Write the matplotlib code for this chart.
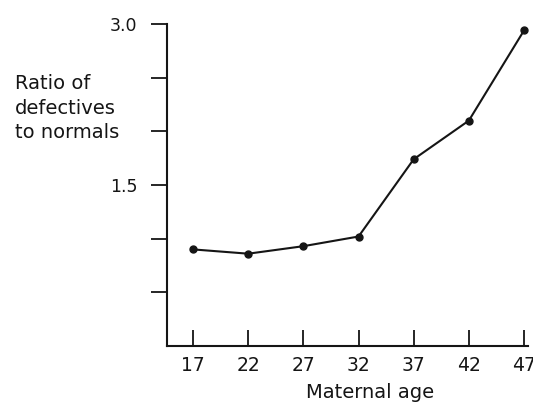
import matplotlib
matplotlib.use("Agg")
import matplotlib.pyplot as plt

ages = [17, 22, 27, 32, 37, 42, 47]
ratio = [0.90, 0.86, 0.93, 1.02, 1.74, 2.10, 2.94]
yticks = [0.5, 1.0, 1.5, 2.0, 2.5, 3.0]
ytick_labels = ["", "", "1.5", "", "", "3.0"]

W, H = 533, 403
fig = plt.figure(figsize=(W / 100, H / 100), dpi=100)
left, right, bottom, top = 167, 528, 346, 24
ax = fig.add_axes([left / W, (H - bottom) / H, (right - left) / W, (bottom - top) / H])

ink = "#151515"
ax.plot(ages, ratio, color=ink, lw=1.5, marker="o", ms=5, mfc=ink, mec=ink)

ax.set_xlim(14.64, 47.36)
ax.set_ylim(0, 3.0)
ax.set_xticks(ages)
ax.set_xticklabels([str(a) for a in ages])
ax.set_yticks(yticks)
ax.set_yticklabels(ytick_labels)

for s in ["top", "right"]:
    ax.spines[s].set_visible(False)
for s in ["left", "bottom"]:
    ax.spines[s].set_color(ink)
    ax.spines[s].set_linewidth(1.5)

ax.tick_params(axis="x", direction="in", length=11.5, width=1.3, pad=7, labelsize=13.5, colors=ink)
ax.tick_params(axis="y", direction="out", length=11.5, width=1.3, pad=10, labelsize=12.5, colors=ink)

fig.text(15 / W, 1 - 108 / H, "Ratio of\ndefectives\nto normals", ha="left", va="center",
         fontsize=14, color=ink, linespacing=1.35)
fig.text(370 / W, 1 - 392 / H, "Maternal age", ha="center", va="center", fontsize=14, color=ink)

fig.savefig("out.png", dpi=100, facecolor="white")
